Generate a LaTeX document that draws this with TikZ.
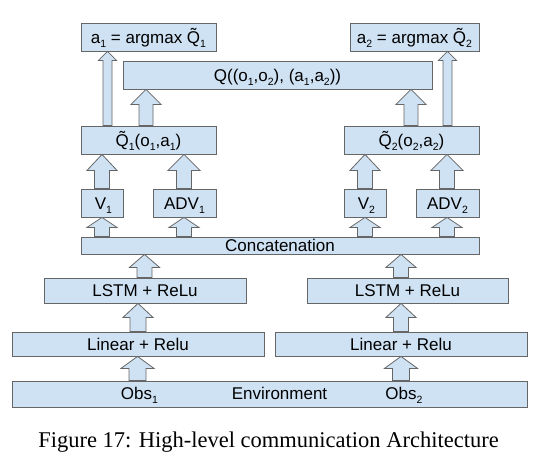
\documentclass[tikz,border=0pt]{standalone}
\usepackage{fontspec}
\setmainfont{Liberation Sans}
\newfontfamily\capfont{Liberation Serif}
\usetikzlibrary{calc}
\definecolor{boxfill}{HTML}{CFE2F3}
\definecolor{boxline}{HTML}{666666}
\newcommand\lo[1]{\raisebox{-0.45ex}{\fontsize{10.5}{11}\selectfont #1}}
\newcommand\blockup[6]{\draw[blk] let \p1=(#2.north), \p2=(#3.south), \p3=(#1,0) in
  (\x3-#4,\y1) -- (\x3-#4,\y2-#6) -- (\x3-#5,\y2-#6) -- (\x3,\y2) -- (\x3+#5,\y2-#6) -- (\x3+#4,\y2-#6) -- (\x3+#4,\y1) -- cycle;}

\begin{document}
\begin{tikzpicture}[x=1pt, y=-1pt,
  box/.style={draw=boxline, fill=boxfill, line width=0.8pt, inner sep=0pt, text height=12pt, text depth=0pt, font=\fontsize{17}{20}\selectfont},
  blk/.style={draw=boxline, fill=boxfill, line width=0.8pt, line join=miter}]
\useasboundingbox (0,0) rectangle (551,469);
\node[box, minimum width=135, minimum height=28] (a1) at (148.5,37) {a\lo{1} = argmax Q̃\lo{1}};
\node[box, minimum width=129, minimum height=28] (a2) at (414.5,37) {a\lo{2} = argmax Q̃\lo{2}};
\node[box, minimum width=309, minimum height=28] (q) at (277.5,75) {Q((o\lo{1},o\lo{2}), (a\lo{1},a\lo{2}))};
\node[box, minimum width=135, minimum height=28] (q1) at (148.5,140) {Q̃\lo{1}(o\lo{1},a\lo{1})};
\node[box, minimum width=135, minimum height=28] (q2) at (411.5,140) {Q̃\lo{2}(o\lo{2},a\lo{2})};
\node[box, minimum width=42, minimum height=28] (v1) at (102,203) {\,V\lo{1}};
\node[box, minimum width=63, minimum height=28] (adv1) at (184.5,203) {ADV\lo{1}};
\node[box, minimum width=42, minimum height=28] (v2) at (365,203) {\,V\lo{2}};
\node[box, minimum width=63, minimum height=28] (adv2) at (447.5,203) {ADV\lo{2}};
\node[box, minimum width=398, minimum height=17] (concat) at (280,245.5) {Concatenation};
\node[box, minimum width=202, minimum height=25] (lstm1) at (145,290.5) {LSTM + ReLu};
\node[box, minimum width=201, minimum height=25] (lstm2) at (407.5,290.5) {LSTM + ReLu};
\node[box, minimum width=252, minimum height=24] (lin1) at (138,344) {Linear + Relu};
\node[box, minimum width=252, minimum height=24] (lin2) at (401,344) {Linear + Relu};
\node[box, minimum width=515, minimum height=26] (env) at (269.5,394) {};
\node[font=\fontsize{17}{20}\selectfont, anchor=base, inner sep=0pt] (obs1) at (139.5,399) {Obs\lo{1}};
\node[font=\fontsize{17}{20}\selectfont, anchor=base, inner sep=0pt] (envtext) at (279.5,399) {Environment};
\node[font=\fontsize{17}{20}\selectfont, anchor=base, inner sep=0pt] (obs2) at (404,399) {Obs\lo{2}};
\blockup{137.5}{env}{lin1}{8.5pt}{16.5pt}{12pt}
\blockup{401}{env}{lin2}{8.5pt}{16.5pt}{12pt}
\blockup{138}{lin1}{lstm1}{8pt}{15pt}{14pt}
\blockup{401}{lin2}{lstm2}{7.5pt}{15pt}{14pt}
\blockup{144.5}{lstm1}{concat}{7.5pt}{15pt}{13pt}
\blockup{401}{lstm2}{concat}{7.5pt}{15pt}{13pt}
\blockup{102}{concat}{v1}{7.5pt}{15pt}{10pt}
\blockup{184}{concat}{adv1}{7.5pt}{15pt}{10pt}
\blockup{365}{concat}{v2}{7.5pt}{15pt}{10pt}
\blockup{447}{concat}{adv2}{7.5pt}{15pt}{10pt}
\blockup{102}{v1}{q1}{7.5pt}{15pt}{16pt}
\blockup{184}{adv1}{q1}{7.5pt}{16pt}{16pt}
\blockup{365}{v2}{q2}{7.5pt}{15pt}{16pt}
\blockup{447}{adv2}{q2}{7.5pt}{16pt}{16pt}
\blockup{146}{q1}{q}{7pt}{15pt}{15pt}
\blockup{411}{q2}{q}{7pt}{15pt}{15pt}
\blockup{107.5}{q1}{a1}{4.5pt}{9pt}{9pt}
\blockup{447.5}{q2}{a2}{4.5pt}{9pt}{9pt}
\node[font=\capfont\fontsize{22.5}{26}\selectfont, anchor=base, inner sep=0pt] (caption) at (268.5,447.7) {Figure 17: High-level communication Architecture};
\end{tikzpicture}
\end{document}
